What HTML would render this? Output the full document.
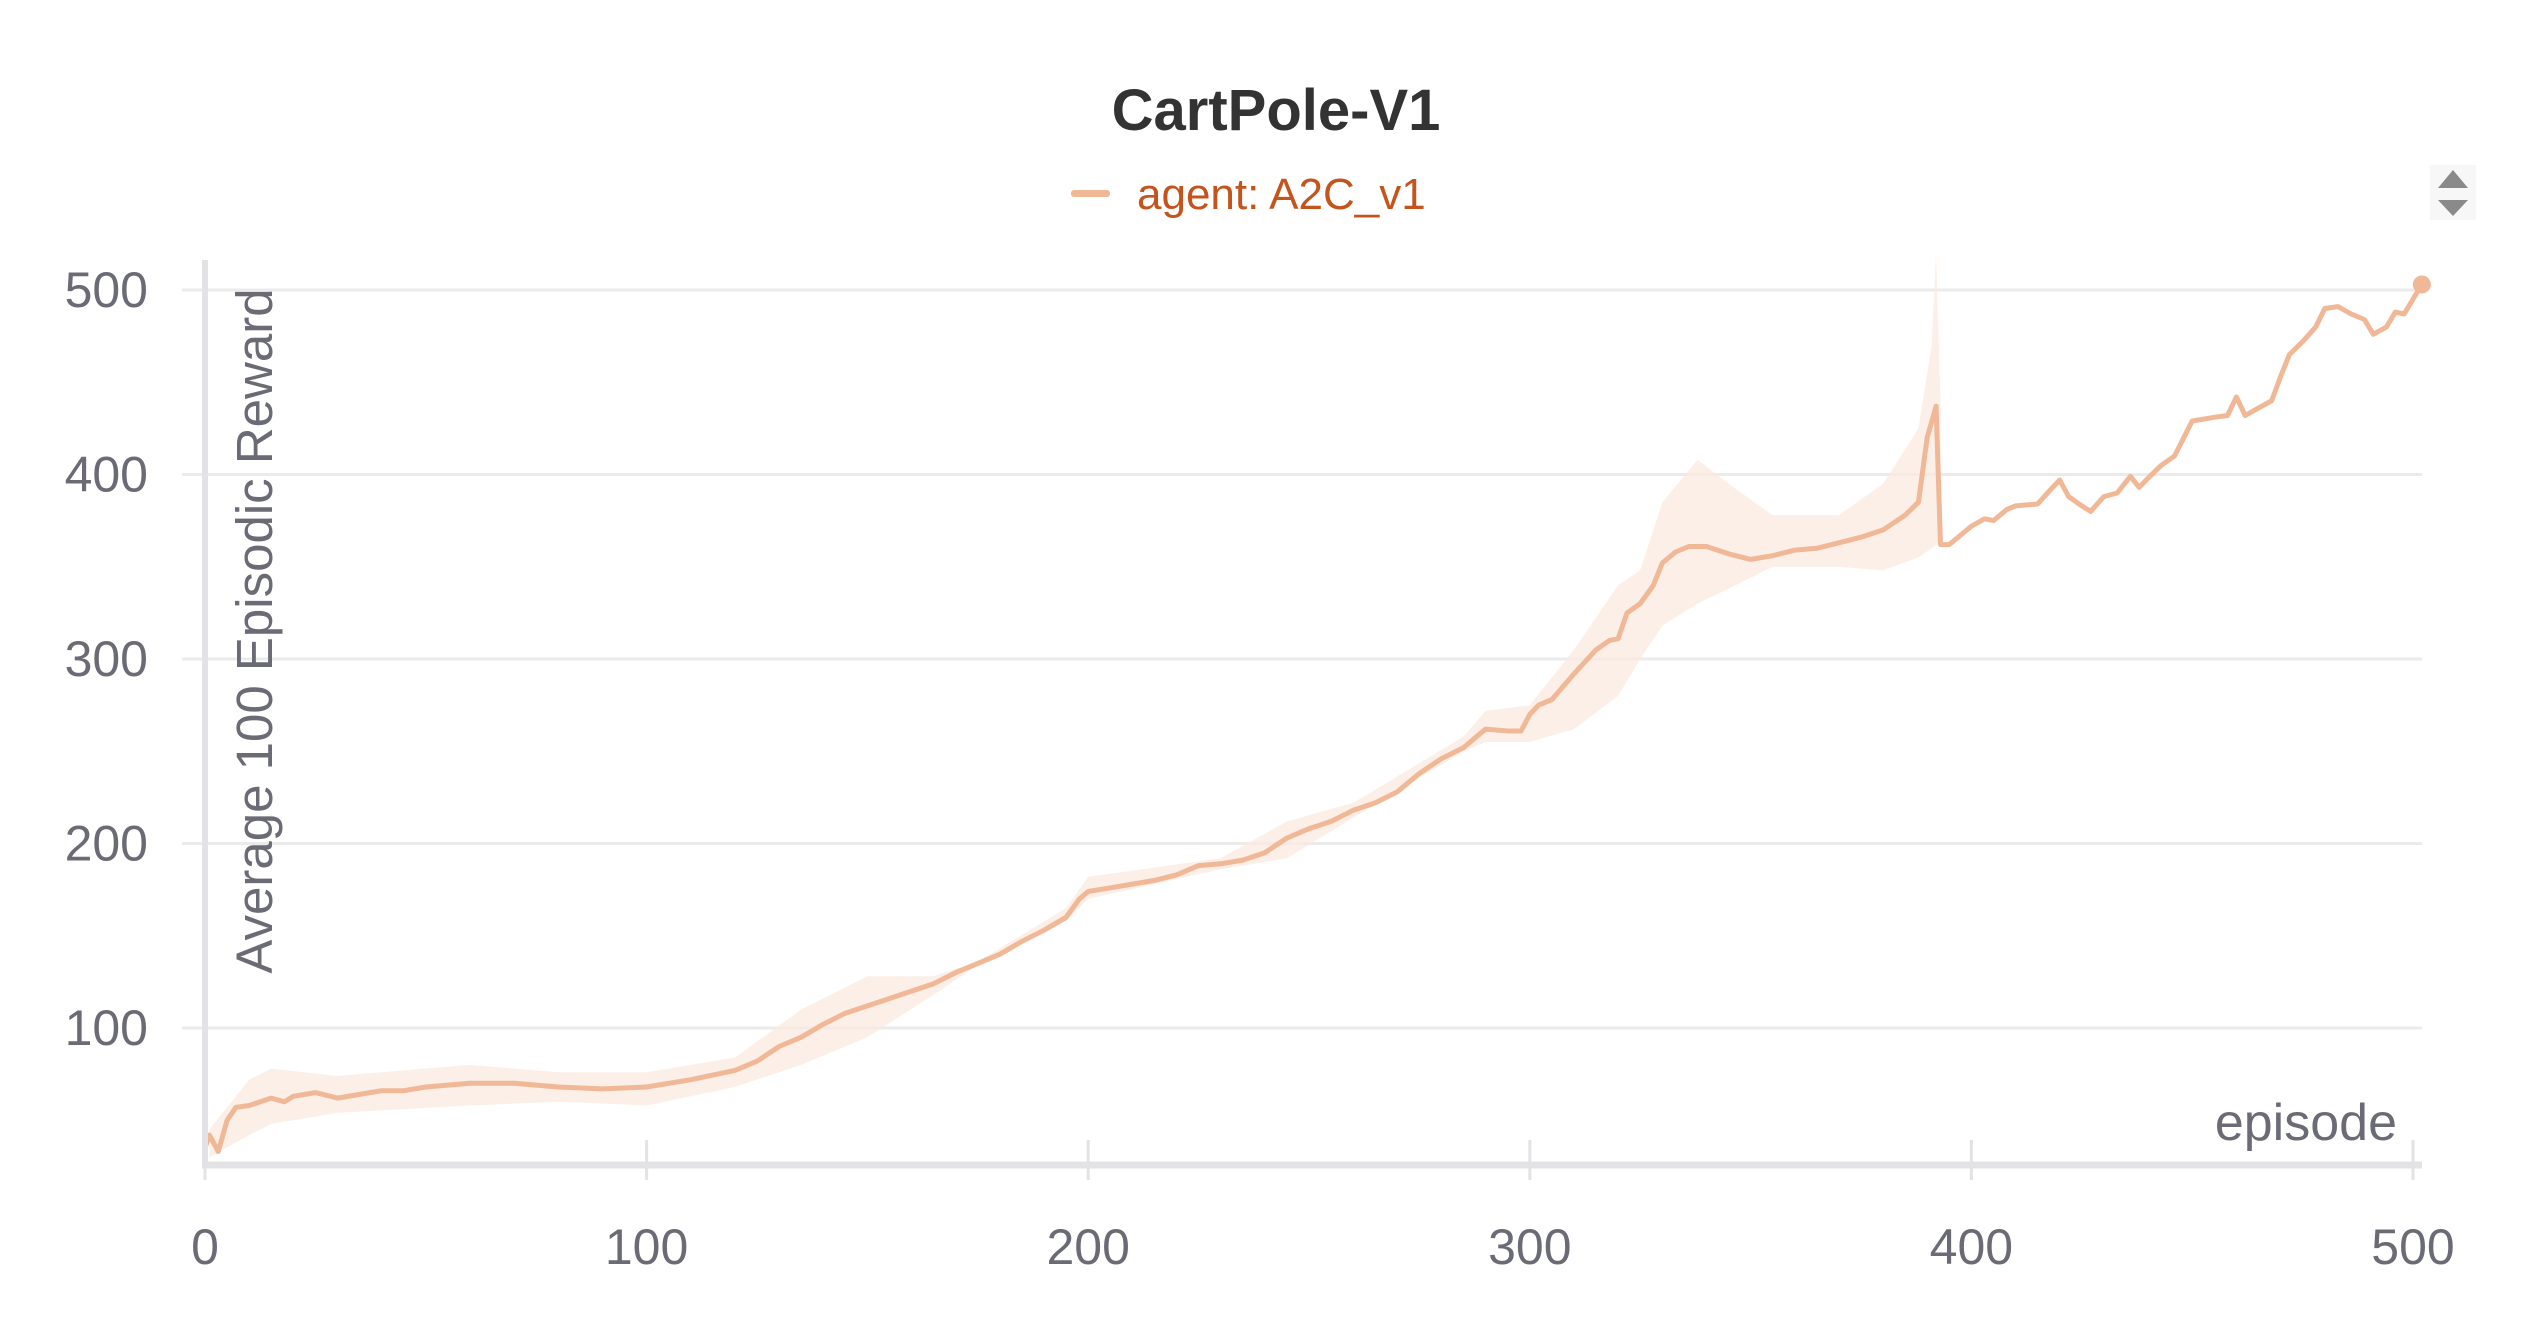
<!DOCTYPE html>
<html><head><meta charset="utf-8"><style>
html,body{margin:0;padding:0;background:#fff;}
svg{display:block;font-family:"Liberation Sans",sans-serif;}
</style></head><body>
<svg id="chart" width="2528" height="1328" viewBox="0 0 2528 1328">
  <text x="1276" y="130" text-anchor="middle" font-size="58" font-weight="bold" fill="#333">CartPole-V1</text>
  <g>
    <rect x="1071" y="190" width="39" height="7" rx="3" fill="#f0b896"/>
    <text x="1137" y="209" font-size="44" fill="#c4541c">agent: A2C_v1</text>
  </g>
  <g>
    <rect x="2430" y="165" width="46" height="55" fill="#f7f7f7"/>
    <polygon points="2438,188 2468,188 2453,170" fill="#8a8a8a"/>
    <polygon points="2438,200 2468,200 2453,216" fill="#8a8a8a"/>
  </g>
  <g id="grid"></g>
  <g id="band"></g>
  <g id="series"></g>
  <g id="axes"></g>
  <text transform="translate(272,631) rotate(-90)" text-anchor="middle" font-size="51" fill="#6b6b76">Average 100 Episodic Reward</text>
  <text x="2397" y="1140" text-anchor="end" font-size="52" fill="#6b6b76">episode</text>
</svg>
<script>
const xTicks = [0,100,200,300,400,500];
const yTicks = [100,200,300,400,500];
const episodes = [0,1,3,5,7,10,15,18,20,25,30,35,40,45,50,60,70,80,90,100,110,120,125,130,135,140,145,150,155,160,165,170,175,180,185,190,195,198,200,205,210,215,220,225,230,235,240,245,250,255,260,265,270,275,280,285,290,295,298,300,302,305,310,315,318,320,322,325,328,330,333,336,340,345,350,355,360,365,370,375,380,385,388,390,392,393,395,398,400,403,405,408,410,415,418,420,422,425,427,430,433,436,438,440,443,446,450,455,458,460,462,465,468,470,472,475,478,480,483,486,489,491,494,496,498,500,502];
const reward = [35,42,33,50,57,58,62,60,63,65,62,64,66,66,68,70,70,68,67,68,72,77,82,90,95,102,108,112,116,120,124,130,135,140,147,153,160,170,174,176,178,180,183,188,189,191,195,203,208,212,218,222,228,238,246,252,262,261,261,270,275,278,292,305,310,311,325,330,340,352,358,361,361,357,354,356,359,360,363,366,370,378,385,420,437,362,362,368,372,376,375,381,383,384,392,397,388,383,380,388,390,399,393,398,405,410,429,431,432,442,432,436,440,453,465,472,480,490,491,487,484,476,480,488,487,495,503];
const bandEp = [1,10,15,30,60,80,100,120,135,150,165,175,195,200,230,245,260,285,290,300,310,320,325,330,338,345,355,370,380,388,391,392,393];
const bandHi = [45,72,78,74,80,76,76,84,110,128,128,136,165,182,192,212,222,258,272,275,305,340,348,385,408,395,378,378,395,425,470,520,440];
const bandLo = [30,42,48,54,58,60,58,68,80,95,118,134,158,170,186,192,214,250,255,255,262,280,300,318,330,338,350,350,348,355,360,362,362];

const X0=205, X1=2413, Y100=1028, Y500=290;
const sx = v => X0 + (X1-X0)*v/500;
const sy = v => Y100 + (Y500-Y100)*(v-100)/400;
const NS="http://www.w3.org/2000/svg";
function mk(tag, attrs, parent){const e=document.createElementNS(NS,tag);for(const k in attrs)e.setAttribute(k,attrs[k]);parent.appendChild(e);return e;}

const grid=document.getElementById('grid'), axes=document.getElementById('axes');
yTicks.forEach(t=>{
  const l=mk('line',{x1:X0,x2:2422,y1:sy(t),y2:sy(t),stroke:'#ebebeb','stroke-width':3},grid);
  
  
  const tk=mk('line',{x1:182,x2:228,y1:sy(t),y2:sy(t),stroke:'#ebebeb','stroke-width':3},axes);
  
  
  const tx=mk('text',{x:148,y:sy(t)+17,'text-anchor':'end','font-size':50,fill:'#6b6b76'},axes);
  tx.textContent=t;
  
  
});
const ya=mk('line',{x1:X0,x2:X0,y1:260,y2:1168,stroke:'#e3e3e6','stroke-width':6},axes);


const xa=mk('line',{x1:X0-3,x2:2422,y1:1165,y2:1165,stroke:'#e3e3e6','stroke-width':7},axes);


xTicks.forEach(t=>{
  const tk=mk('line',{x1:sx(t),x2:sx(t),y1:1140,y2:1180,stroke:'#e3e3e6','stroke-width':3},axes);
  
  
  const tx=mk('text',{x:sx(t),y:1264,'text-anchor':'middle','font-size':50,fill:'#6b6b76'},axes);
  tx.textContent=t;
  
  
});

let d='M'+bandEp.map((e,i)=>sx(e).toFixed(1)+','+sy(bandHi[i]).toFixed(1)).join(' L');
for(let i=bandEp.length-1;i>=0;i--) d+=' L'+sx(bandEp[i]).toFixed(1)+','+sy(bandLo[i]).toFixed(1);
d+=' Z';
const band=mk('path',{d:d,fill:'#fbe9e0','fill-opacity':0.75},document.getElementById('band'));



const ser=document.getElementById('series');
const line=mk('path',{d:'M'+episodes.map((e,i)=>sx(e).toFixed(1)+','+sy(reward[i]).toFixed(1)).join(' L'),fill:'none',stroke:'#f0b896','stroke-width':5,'stroke-linejoin':'round'},ser);


const n=episodes.length-1;
const dot=mk('circle',{cx:sx(episodes[n]),cy:sy(reward[n]),r:9,fill:'#f0b896'},ser);


</script>
</body></html>
